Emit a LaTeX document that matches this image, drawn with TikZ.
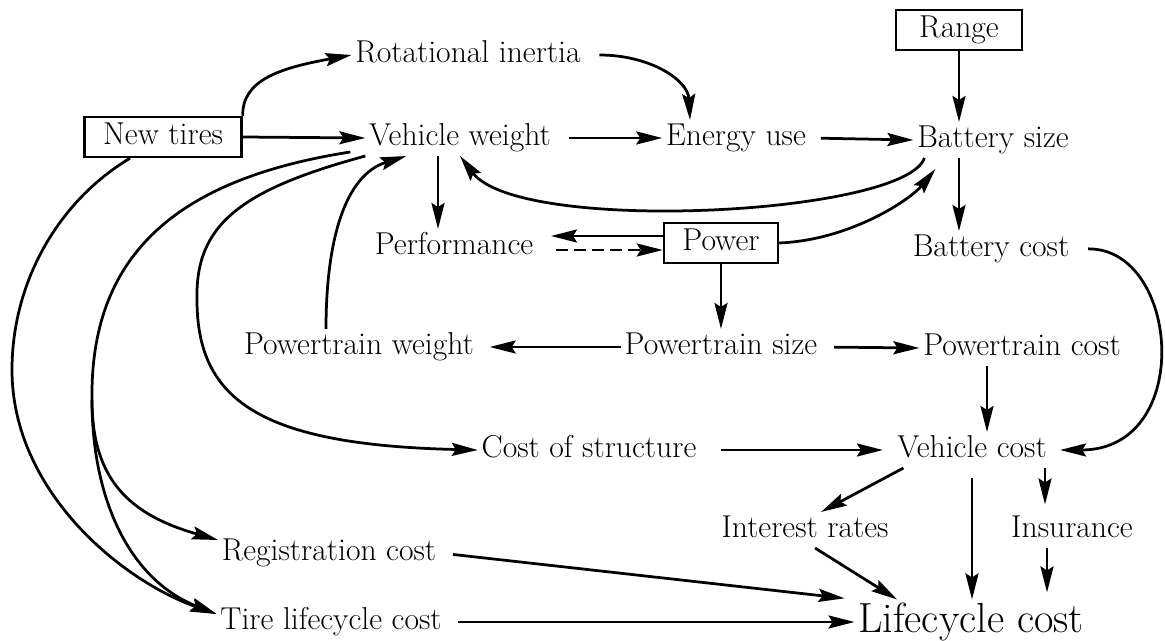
\documentclass[tikz,border=0pt]{standalone}
\usepackage{fontspec}
\usetikzlibrary{arrows.meta}

\begin{document}
\begin{tikzpicture}[x=0.02cm, y=-0.02cm,
	txt/.style={font=\fontsize{18}{21}\selectfont, inner sep=2pt, text height=12.5pt, text depth=3.6pt},
	bigtxt/.style={font=\fontsize{24}{28}\selectfont, inner sep=2pt, text height=16.5pt, text depth=4.8pt},
	boxed/.style={txt, draw, line width=0.5mm, minimum height=0.8cm},
	link/.style={line width=0.55mm, -{Stealth[length=0.52cm,width=0.26cm,inset=0.08cm]}},
	dashlink/.style={link, dash pattern=on 0.24cm off 0.12cm}]
				\useasboundingbox (0,0) rectangle (1165,641);
				
				\node[boxed, minimum width=2.52cm] (range) at (959,30) {Range};
				\node[boxed, minimum width=3.14cm] (tires) at (163,137) {New tires};
				\node[boxed, minimum width=2.28cm] (power) at (721,243) {Power};
				
				\node[txt] (rot) at (468,55) {Rotational inertia};
				\node[txt] (vw) at (460,138) {Vehicle weight};
				\node[txt] (eu) at (736,138) {Energy use};
				\node[txt] (bs) at (993,140) {Battery size};
				\node[txt] (perf) at (454,247) {Performance};
				\node[txt] (bc) at (991,249) {Battery cost};
				\node[txt] (ptw) at (359,347) {Powertrain weight};
				\node[txt] (pts) at (721,347) {Powertrain size};
				\node[txt] (ptc) at (1022,348) {Powertrain cost};
				\node[txt] (cos) at (589,450) {Cost of structure};
				\node[txt] (vc) at (972,450) {Vehicle cost};
				\node[txt] (ir) at (805,530) {Interest rates};
				\node[txt] (ins) at (1072,530) {Insurance};
				\node[txt] (reg) at (329,553) {Registration cost};
				\node[txt] (tlc) at (331,622) {Tire lifecycle cost};
				\node[bigtxt] (lc) at (971,622) {Lifecycle cost};
				\coordinate (split) at (92,400);
				
				\draw[link] (tires.north east) .. controls (242,80) and (280,68) .. (rot.west);
				\draw[link] (tires.east) -- (vw.west);
				\draw[link, shorten <=0.3cm] (rot.east) .. controls (650,55) and (688,80) .. ([xshift=-0.92cm]eu.north);
				\draw[link, shorten <=0.28cm] (vw.east) -- (eu.west);
				\draw[link, shorten <=0.22cm] (eu.east) -- (bs.west);
				\draw[link] (range.south) -- (range.south |- bs.north);
				\draw[link] (range.south |- bs.south) -- (range.south |- bc.north);
				\draw[link] ([xshift=0.22cm]bs.south west) .. controls (905,215) and (520,235) .. (vw.south);
				\draw[link] ([xshift=-0.44cm]vw.south) -- ([xshift=-0.44cm]vw.south |- perf.north);
				
				\draw[link, shorten >=0.28cm] ([yshift=0.14cm]power.west) -- ([yshift=0.14cm]power.west -| perf.east);
				\draw[dashlink, shorten <=0.38cm] ([yshift=-0.14cm]power.west -| perf.east) -- ([yshift=-0.14cm]power.west);
				\draw[link] (power.east) .. controls (850,240) and (910,200) .. ([xshift=0.44cm, yshift=-0.22cm]bs.south west);
				\draw[link] (power.south) -- (pts.north);
				
				\draw[link, shorten >=0.24cm] (pts.west) -- (ptw.east);
				\draw[link, shorten <=0.26cm] (pts.east) -- (ptc.west);
				\draw[link] ([xshift=-0.66cm]ptw.north) .. controls (326,240) and (345,175) .. ([xshift=0.82cm]vw.south west);
				\draw[link] ([xshift=-0.7cm]ptc.south) -- ([xshift=-0.7cm]ptc.south |- vc.north);
				\draw[link, shorten <=0.3cm, shorten >=0.19cm] (bc.east) .. controls (1180,248) and (1195,450) .. (vc.east);
				
				\draw[link, shorten <=0.42cm, shorten >=0.21cm] (cos.east) -- (vc.west);
				\draw[link] (vw.south west) .. controls (240,190) and (195,225) .. (197,300) .. controls (197,400) and (260,445) .. (cos.west);
				\draw[link] ([xshift=-0.66cm]tires.south) .. controls (60,200) and (12,280) .. (12,370) .. controls (12,490) and (120,580) .. ([yshift=0.16cm]tlc.west);
				\draw[link] ([xshift=-0.3cm, yshift=-0.28cm]vw.west) .. controls (170,180) and (90,260) .. (split) .. controls (92,480) and (130,515) .. ([yshift=0.26cm]reg.west);
				\draw[link] (split) .. controls (92,500) and (130,580) .. ([yshift=0.16cm]tlc.west);
				
				\draw[link, shorten <=0.26cm, shorten >=0.2cm] (reg.east) -- (lc.north west);
				\draw[link, shorten <=0.26cm] (tlc.east) -- (lc.west);
				\draw[link] ([xshift=0.2cm]vc.south west) -- ([xshift=0.32cm]ir.north);
				\draw[link] ([xshift=0.2cm]ir.south) -- ([xshift=-1.48cm]lc.north);
				\draw[link, shorten <=0.2cm] (vc.south) -- (vc.south |- lc.north);
				\draw[link, shorten >=0.15cm] ([xshift=1.46cm]vc.south) -- ([xshift=1.46cm]vc.south |- ins.north);
				\draw[link, shorten >=0.14cm] ([xshift=-0.5cm]ins.south) -- ([xshift=-0.5cm]ins.south |- lc.north);
			\end{tikzpicture}
\end{document}
